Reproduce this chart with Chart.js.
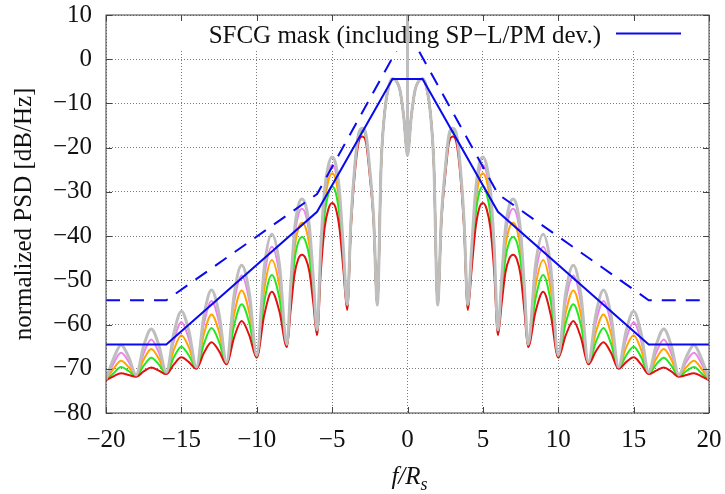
<!DOCTYPE html>
<html>
<head>
<meta charset="utf-8">
<title>SFCG mask and normalized PSD</title>
<script src="https://cdn.jsdelivr.net/npm/chart.js"></script>
<style>
  html, body { margin: 0; padding: 0; background: #fff; }
  canvas { display: block; }
</style>
</head>
<body>
<canvas id="psd-graph" width="725" height="494"></canvas>
<script>
// normalized frequency f/Rs (finer step close to the carrier)
var freq = [
  -20, -19.5, -19, -18.5, -18, -17.5, -17, -16.5, -16, -15.5, -15, -14.5, -14, -13.5, -13, -12.5, -12, -11.5, -11, -10.5, -10, -9.5, -9, -8.5,
  -8, -7.75, -7.5, -7.25, -7, -6.75, -6.5, -6.25, -6, -5.75, -5.5, -5.25, -5, -4.75, -4.5, -4.25, -4, -3.75, -3.5, -3.25, -3, -2.75, -2.5, -2.25, -2, -1.75, -1.5, -1.25, -1, -0.75, -0.5, -0.25,
  0,
  0.25, 0.5, 0.75, 1, 1.25, 1.5, 1.75, 2, 2.25, 2.5, 2.75, 3, 3.25, 3.5, 3.75, 4, 4.25, 4.5, 4.75, 5, 5.25, 5.5, 5.75, 6, 6.25, 6.5, 6.75, 7, 7.25, 7.5, 7.75, 8,
  8.5, 9, 9.5, 10, 10.5, 11, 11.5, 12, 12.5, 13, 13.5, 14, 14.5, 15, 15.5, 16, 16.5, 17, 17.5, 18, 18.5, 19, 19.5, 20
];

// PSD curves in dB/Hz, one per filter case
var psdGray = [
  -72.4, -67.7, -64.6, -67.3, -71.4, -64.8, -61, -64.6, -70.8, -62, -57, -61.5, -69.6, -57.9, -52.2, -57.6, -68.5, -53.2, -46.6, -52.7, -67, -47, -39.6, -46.3,
  -64.5, -51.3, -38.8, -33.2, -31.6, -33.1, -38.1, -49.4, -61.2, -42.4, -29.6, -24, -22.1, -23.9, -30.4, -43, -55.5, -36.4, -24.3, -17, -15.6, -17.1, -25, -35.6, -55.6, -24, -11.5, -6.2, -4.4, -4.9, -7, -13,
  -21.7,
  -13, -7, -4.9, -4.4, -6.2, -11.5, -24, -55.6, -35.6, -25, -17.1, -15.6, -17, -24.3, -36.4, -55.5, -43, -30.4, -23.9, -22.1, -24, -29.6, -42.4, -61.2, -49.4, -38.1, -33.1, -31.6, -33.2, -38.8, -51.3, -64.5,
  -46.3, -39.6, -47, -67, -52.7, -46.6, -53.2, -68.5, -57.6, -52.2, -57.9, -69.6, -61.5, -57, -62, -70.8, -64.6, -61, -64.8, -71.4, -67.3, -64.6, -67.7, -72.4
];
var psdViolet = [
  -72.5, -68.8, -66.4, -68.4, -71.5, -66.5, -63.4, -66.3, -70.9, -63.7, -59.5, -63.3, -69.7, -59.8, -54.7, -59.5, -68.7, -55, -48.9, -54.6, -67.2, -49.3, -42.4, -48.6,
  -64.7, -52.3, -40.6, -35.3, -33.8, -35.2, -39.9, -50.4, -61.4, -43.4, -31, -25.7, -23.9, -25.6, -31.9, -44, -55.8, -36.6, -24.5, -17.2, -15.8, -17.3, -25.2, -35.7, -55.6, -24, -11.5, -6.2, -4.4, -4.9, -7, -13,
  -21.7,
  -13, -7, -4.9, -4.4, -6.2, -11.5, -24, -55.6, -35.7, -25.2, -17.3, -15.8, -17.2, -24.5, -36.6, -55.8, -44, -31.9, -25.6, -23.9, -25.7, -31, -43.4, -61.4, -50.4, -39.9, -35.2, -33.8, -35.3, -40.6, -52.3, -64.7,
  -48.6, -42.4, -49.3, -67.2, -54.6, -48.9, -55, -68.7, -59.5, -54.7, -59.8, -69.7, -63.3, -59.5, -63.7, -70.9, -66.3, -63.4, -66.5, -71.5, -68.4, -66.4, -68.8, -72.5
];
var psdOrange = [
  -72.5, -70, -68.2, -69.6, -71.6, -67.9, -65.5, -67.7, -71, -65.7, -62.4, -65.2, -69.8, -62.1, -57.7, -61.7, -68.8, -57.7, -52.3, -57.3, -67.3, -52, -45.4, -51.2,
  -64.8, -53.7, -43.1, -38.4, -37, -38.2, -42.4, -51.8, -61.7, -44.5, -32.6, -27.5, -25.8, -27.4, -33.4, -44.8, -56, -36.8, -24.7, -17.4, -16, -17.5, -25.4, -35.8, -55.6, -24, -11.5, -6.2, -4.4, -4.9, -7, -13,
  -21.7,
  -13, -7, -4.9, -4.4, -6.2, -11.5, -24, -55.6, -35.8, -25.4, -17.5, -16, -17.4, -24.7, -36.8, -56, -44.8, -33.4, -27.4, -25.8, -27.5, -32.6, -44.5, -61.7, -51.8, -42.4, -38.2, -37, -38.4, -43.1, -53.7, -64.8,
  -51.2, -45.4, -52, -67.3, -57.3, -52.3, -57.7, -68.8, -61.7, -57.7, -62.1, -69.8, -65.2, -62.4, -65.7, -71, -67.7, -65.5, -67.9, -71.6, -69.6, -68.2, -70, -72.5
];
var psdGreen = [
  -72.6, -71, -69.6, -70.5, -71.7, -69.3, -67.5, -69, -71.1, -67.4, -65, -67, -69.9, -64.3, -60.8, -63.9, -68.9, -60.1, -55.4, -59.6, -67.4, -54.8, -48.8, -54,
  -64.9, -55, -45.6, -41.4, -40.2, -41.3, -45, -53.2, -61.8, -46, -35.1, -30.4, -28.8, -30.3, -35.7, -46.1, -56.2, -37, -24.9, -17.6, -16.2, -17.7, -25.5, -35.9, -55.6, -24, -11.5, -6.2, -4.4, -4.9, -7, -13,
  -21.7,
  -13, -7, -4.9, -4.4, -6.2, -11.5, -24, -55.6, -35.9, -25.5, -17.7, -16.2, -17.6, -24.9, -37, -56.2, -46.1, -35.7, -30.3, -28.8, -30.4, -35.1, -46, -61.8, -53.2, -45, -41.3, -40.2, -41.4, -45.6, -55, -64.9,
  -54, -48.8, -54.8, -67.4, -59.6, -55.4, -60.1, -68.9, -63.9, -60.8, -64.3, -69.9, -67, -65, -67.4, -71.1, -69, -67.5, -69.3, -71.7, -70.5, -69.6, -71, -72.6
];
var psdRed = [
  -72.6, -71.7, -71, -71.4, -71.8, -70.6, -69.7, -70.4, -71.2, -69, -67.4, -68.5, -70, -66.4, -64, -66, -69, -62.9, -59.2, -62.4, -67.5, -57.8, -52.6, -57,
  -65.1, -56.7, -48.8, -45.2, -44.2, -45.1, -48.2, -55.1, -62.4, -48, -38.2, -33.9, -32.5, -33.8, -38.6, -47.7, -56.7, -37.9, -26, -18.9, -17.5, -18.9, -26.5, -36.6, -55.6, -24, -11.5, -6.2, -4.4, -4.9, -7, -13,
  -21.7,
  -13, -7, -4.9, -4.4, -6.2, -11.5, -24, -55.6, -36.6, -26.5, -18.9, -17.5, -18.9, -26, -37.9, -56.7, -47.7, -38.6, -33.8, -32.5, -33.9, -38.2, -48, -62.4, -55.1, -48.2, -45.1, -44.2, -45.2, -48.8, -56.7, -65.1,
  -57, -52.6, -57.8, -67.5, -62.4, -59.2, -62.9, -69, -66, -64, -66.4, -70, -68.5, -67.4, -69, -71.2, -70.4, -69.7, -70.6, -71.8, -71.4, -71, -71.7, -72.6
];

// residual carrier line
var carrierFreq = [0, 0];
var carrierLevel = [-21.7, 10];

// SFCG mask, and the mask including the SP-L/PM deviation
var maskFreq = [-20, -16, -6, -1, 1, 6, 16, 20];
var maskLevel = [-64.5, -64.5, -34.5, -4.5, -4.5, -34.5, -64.5, -64.5];
var devMaskFreq = [-20, -16, -6, 0, 6, 16, 20];
var devMaskLevel = [-54.5, -54.5, -30.5, 6.5, -30.5, -54.5, -54.5];

var xTicks = [-20, -15, -10, -5, 0, 5, 10, 15, 20];
var yTicks = [10, 0, -10, -20, -30, -40, -50, -60, -70, -80];

var keyLabel = 'SFCG mask (including SP\u2212L/PM dev.)';
var yTitle = 'normalized PSD [dB/Hz]';

var SERIF = '"Liberation Serif", "Times New Roman", serif';
var BLUE = '#0a0aee';

function pts(xs, ys) {
  return xs.map(function (x, i) { return { x: x, y: ys[i] }; });
}

function minusLabel(v) {
  return v < 0 ? '\u2212' + Math.abs(v) : String(v);
}

function curve(data, color, width, order) {
  return {
    data: pts(freq, data),
    borderColor: color,
    borderWidth: width,
    pointRadius: 0,
    cubicInterpolationMode: 'monotone',
    order: order
  };
}

// fixed axis boxes, label overhang must not move the plot frame
function fixBox(size) {
  return function (s) {
    if (s.isHorizontal()) s.height = size; else s.width = size;
    s.paddingTop = 0; s.paddingBottom = 0; s.paddingLeft = 0; s.paddingRight = 0;
  };
}

var DEV_INDEX = 5;

// gnuplot look: opaque key, closed frame, inward ticks, f/R_s label
var gnuplotLook = {
  id: 'gnuplotLook',
  afterDatasetDraw: function (chart, args) {
    if (args.index !== DEV_INDEX) return;
    var a = chart.chartArea, ctx = chart.ctx;
    ctx.save();
    ctx.fillStyle = '#fff';
    ctx.fillRect(a.left + 72, a.top + 1, a.right - a.left - 76, 35);
    ctx.font = '25px ' + SERIF;
    ctx.fillStyle = '#111';
    ctx.textAlign = 'right';
    ctx.textBaseline = 'alphabetic';
    ctx.fillText(keyLabel, a.left + 495, a.top + 28);
    ctx.strokeStyle = BLUE;
    ctx.lineWidth = 2;
    ctx.beginPath();
    ctx.moveTo(a.left + 510, a.top + 18.5);
    ctx.lineTo(a.left + 575, a.top + 18.5);
    ctx.stroke();
    ctx.restore();
  },
  afterDraw: function (chart) {
    var a = chart.chartArea, ctx = chart.ctx;
    var sx = chart.scales.x, sy = chart.scales.y;
    ctx.save();
    ctx.strokeStyle = '#444';
    ctx.lineWidth = 1;
    ctx.strokeRect(a.left, a.top, a.right - a.left, a.bottom - a.top);
    ctx.beginPath();
    xTicks.forEach(function (v) {
      var p = Math.round(sx.getPixelForValue(v)) + 0.5;
      ctx.moveTo(p, a.bottom); ctx.lineTo(p, a.bottom - 6);
      ctx.moveTo(p, a.top); ctx.lineTo(p, a.top + 6);
    });
    yTicks.forEach(function (v) {
      var p = Math.round(sy.getPixelForValue(v)) + 0.5;
      ctx.moveTo(a.left, p); ctx.lineTo(a.left + 6, p);
      ctx.moveTo(a.right, p); ctx.lineTo(a.right - 6, p);
    });
    ctx.stroke();

    // x axis title with subscript
    ctx.fillStyle = '#111';
    ctx.textBaseline = 'alphabetic';
    ctx.textAlign = 'left';
    ctx.font = 'italic 25px ' + SERIF;
    var w1 = ctx.measureText('f/R').width;
    ctx.font = 'italic 18px ' + SERIF;
    var w2 = ctx.measureText('s').width;
    var x0 = (a.left + a.right) / 2 + 2 - (w1 + w2) / 2;
    ctx.font = 'italic 25px ' + SERIF;
    ctx.fillText('f/R', x0, 484);
    ctx.font = 'italic 18px ' + SERIF;
    ctx.fillText('s', x0 + w1, 490);
    ctx.restore();
  }
};

var ctx = document.getElementById('psd-graph').getContext('2d');
var chart = new Chart(ctx, {
  type: 'line',
  data: {
    datasets: [
      curve(psdViolet, '#ee82ee', 2, 8),
      curve(psdOrange, '#ffa500', 2, 7),
      curve(psdGreen, '#22e822', 2, 6),
      curve(psdRed, '#e31010', 2, 5),
      curve(psdGray, '#bebebe', 3, 4),
      {
        data: pts(devMaskFreq, devMaskLevel),
        borderColor: BLUE,
        borderWidth: 2,
        borderDash: [14, 10],
        pointRadius: 0,
        tension: 0,
        order: 3
      },
      {
        data: pts(carrierFreq, carrierLevel),
        borderColor: '#bebebe',
        borderWidth: 3,
        pointRadius: 0,
        tension: 0,
        order: 2
      },
      {
        data: pts(maskFreq, maskLevel),
        borderColor: BLUE,
        borderWidth: 2,
        pointRadius: 0,
        tension: 0,
        order: 1
      }
    ]
  },
  options: {
    responsive: false,
    animation: false,
    devicePixelRatio: 1,
    layout: { padding: { left: 0, top: 15, right: 16, bottom: 0 } },
    plugins: {
      legend: { display: false },
      tooltip: { enabled: false }
    },
    scales: {
      x: {
        type: 'linear',
        min: -20,
        max: 20,
        afterBuildTicks: function (s) { s.ticks = xTicks.map(function (v) { return { value: v }; }); },
        afterFit: fixBox(81),
        ticks: {
          font: { family: SERIF, size: 25 },
          color: '#111',
          padding: 12,
          maxRotation: 0,
          autoSkip: false,
          callback: minusLabel
        },
        grid: { color: '#7a7a7a', lineWidth: 1, drawTicks: false },
        border: { display: false, dash: [1, 2] }
      },
      y: {
        type: 'linear',
        min: -80,
        max: 10,
        afterBuildTicks: function (s) { s.ticks = yTicks.map(function (v) { return { value: v }; }); },
        afterFit: fixBox(106),
        ticks: {
          font: { family: SERIF, size: 25 },
          color: '#111',
          padding: 14,
          autoSkip: false,
          callback: minusLabel
        },
        grid: { color: '#7a7a7a', lineWidth: 1, drawTicks: false },
        border: { display: false, dash: [1, 2] },
        title: {
          display: true,
          text: yTitle,
          font: { family: SERIF, size: 25 },
          color: '#111',
          padding: { top: 9, bottom: 0 }
        }
      }
    }
  },
  plugins: [gnuplotLook]
});
</script>
</body>
</html>
